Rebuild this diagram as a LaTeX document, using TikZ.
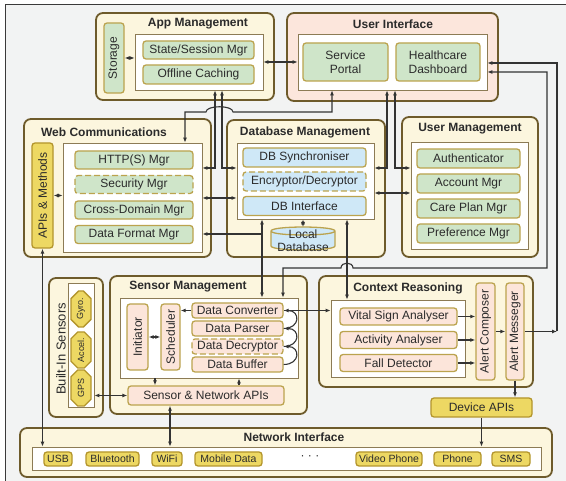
\documentclass[tikz,border=0pt]{standalone}
\usepackage{fontspec}
\setmainfont{Liberation Sans}
\usetikzlibrary{arrows.meta,calc,positioning,shapes.misc}
\definecolor{ArchBack}{HTML}{F2F3F3}
\definecolor{ArchFrame}{HTML}{3A3A3A}
\definecolor{ArchEdge}{HTML}{6E5B2B}
\definecolor{ArchCream}{HTML}{FCF6DE}
\definecolor{ArchRose}{HTML}{FCE6DC}
\definecolor{ArchPanel}{HTML}{8C7B55}
\definecolor{ArchGold}{HTML}{BBA34E}
\definecolor{ArchOchre}{HTML}{B3952C}
\definecolor{ArchGreen}{HTML}{CFE5C9}
\definecolor{ArchBlue}{HTML}{CFE8F7}
\definecolor{ArchPink}{HTML}{FCE5DA}
\definecolor{ArchYellow}{HTML}{EDD863}
\definecolor{ArchText}{HTML}{2B2B2B}
\definecolor{ArchLine}{HTML}{333333}
\tikzset{
  module/.style={draw=ArchEdge, fill=ArchCream, line width=1.8pt, rounded corners=7pt, inner sep=0pt},
  panel/.style={draw=ArchPanel, fill=white, line width=0.7pt, inner sep=0pt},
  itembox/.style={draw=ArchGold, line width=1.3pt, rounded corners=3pt, inner sep=0pt,
    text=ArchText, align=center, font=\fontsize{12}{13.5}\selectfont},
  greenitem/.style={itembox, fill=ArchGreen},
  blueitem/.style={itembox, fill=ArchBlue},
  pinkitem/.style={itembox, fill=ArchPink},
  yellowitem/.style={itembox, fill=ArchYellow, draw=ArchOchre},
  netitem/.style={yellowitem, font=\fontsize{10.5}{12}\selectfont, minimum height=14},
  sensoritem/.style={yellowitem, chamfered rectangle, chamfered rectangle xsep=6pt,
    rounded corners=0pt, rotate=90, minimum width=36, minimum height=20,
    font=\fontsize{9}{10}\selectfont},
  brokenedge/.style={dash pattern=on 6pt off 3pt},
  modtitle/.style={inner sep=0pt, text=ArchText, font=\bfseries\fontsize{12}{14}\selectfont},
  link/.style={draw=ArchLine, line width=1.1pt, ->},
  twolink/.style={link, <->}
}

\begin{document}
\begin{tikzpicture}[x=1pt,y=-1pt,>={Latex[length=5pt,width=4pt]}]

  \useasboundingbox (0,0) rectangle (566,481);
  \fill[ArchBack] (5,5) rectangle (566,481);
  \draw[ArchFrame,line width=1pt] (5,481) -- (5,5) -- (566,5);

  \node[module, minimum width=178, minimum height=87] (appmod) at (185,56.5) {};
  \node[module, fill=ArchRose, minimum width=211, minimum height=88] (uimod) at (392.5,57) {};
  \node[module, minimum width=187, minimum height=138] (webmod) at (117.5,188) {};
  \node[module, minimum width=158, minimum height=137] (dbmod) at (306,188.5) {};
  \node[module, minimum width=136, minimum height=140] (usermod) at (470,187) {};
  \node[module, minimum width=54, minimum height=139] (builtinmod) at (76,347.5) {};
  \node[module, minimum width=197, minimum height=138] (sensormod) at (208.5,345) {};
  \node[module, minimum width=214, minimum height=111] (contextmod) at (426,331.5) {};
  \node[module, minimum width=532, minimum height=49] (netmod) at (286,452.5) {};

  \node[panel, minimum width=128, minimum height=56] (appinner) at (199,62) {};
  \node[panel, minimum width=189, minimum height=56] (uiinner) at (392.5,62) {};
  \node[panel, minimum width=139, minimum height=109] (webinner) at (132.5,197.5) {};
  \node[panel, minimum width=137, minimum height=76] (dbinner) at (305.5,181) {};
  \node[panel, minimum width=117, minimum height=107] (userinner) at (469.5,195.5) {};
  \node[panel, minimum width=26, minimum height=124] (builtininner) at (81,345) {};
  \node[panel, minimum width=178, minimum height=80] (sensorinner) at (209,338) {};
  \node[panel, minimum width=134, minimum height=77] (contextinner) at (398,338.5) {};
  \node[panel, minimum width=509, minimum height=23] (netinner) at (286.5,458.5) {};

  \node[modtitle] (apptitle) at (198,24) {App Management};
  \node[modtitle] (uititle) at (393,24) {User Interface};
  \node[modtitle] (webtitle) at (104,132) {Web Communications};
  \node[modtitle] (dbtitle) at (305,132) {Database Management};
  \node[modtitle] (usertitle) at (470,129) {User Management};
  \node[modtitle] (sensortitle) at (188,287) {Sensor Management};
  \node[modtitle] (contexttitle) at (408,288) {Context Reasoning};
  \node[modtitle] (nettitle) at (294,437) {Network Interface};
  \node[inner sep=0pt, text=ArchText, rotate=90, font=\fontsize{13}{15}\selectfont]
    (builtintitle) at (61,349) {Built-In Sensors};

  \node[greenitem, rotate=90, minimum width=70, minimum height=20] (storage) at (114,58) {Storage};
  \node[greenitem, minimum width=111, minimum height=18] (state) at (198.5,50) {State/Session Mgr};
  \node[greenitem, minimum width=111, minimum height=19] (offline) at (198.5,74.5) {Offline Caching};

  \node[greenitem, minimum width=85, minimum height=38] (portal) at (345.5,62) {Service\\Portal};
  \node[greenitem, minimum width=84, minimum height=38] (dashboard) at (438,62) {Healthcare\\Dashboard};

  \node[yellowitem, rotate=90, minimum width=105, minimum height=21] (apis) at (42.5,195.5) {APIs \& Methods};
  \foreach \y/\name/\lab/\sty in {160/http/HTTP(S) Mgr/solid, 184.5/security/Security Mgr/brokenedge,
      210/crossdomain/Cross-Domain Mgr/solid, 234.5/dataformat/Data Format Mgr/solid}
    \node[greenitem, \sty, minimum width=118, minimum height=18] (\name) at (134,\y) {\lab};

  \foreach \y/\name/\lab/\sty in {157.5/dbsync/DB Synchroniser/solid,
      181.5/encryptor/{Encryptor/Decryptor}/brokenedge, 206/dbinterface/DB Interface/solid}
    \node[blueitem, \sty, minimum width=123, minimum height=19] (\name) at (304.5,\y) {\lab};

  \fill[ArchBlue] (271,231) -- (271,246) .. controls (271,251.3) and (335,251.3) .. (335,246)
    -- (335,231) .. controls (335,225.7) and (271,225.7) .. cycle;
  \draw[ArchGold,line width=1.3pt] (271,231) -- (271,246) .. controls (271,251.3) and (335,251.3) .. (335,246)
    -- (335,231) .. controls (335,225.7) and (271,225.7) .. cycle
    (271,231) .. controls (271,236.3) and (335,236.3) .. (335,231);
  \node[inner sep=0pt, align=center, text=ArchText, font=\fontsize{12}{13}\selectfont]
    (localdb) at (303,240.5) {Local\\Database};

  \foreach \y/\name/\lab in {158.5/auth/Authenticator, 183.5/account/Account Mgr,
      208.5/careplan/Care Plan Mgr, 233.5/preference/Preference Mgr}
    \node[greenitem, minimum width=103, minimum height=19] (\name) at (468.5,\y) {\lab};

  \foreach \y/\name/\lab in {309/gyro/Gyro., 350/accel/Accel., 388/gps/GPS}
    \node[sensoritem] (\name) at (81,\y) {\lab};

  \node[pinkitem, rotate=90, minimum width=66, minimum height=21] (initiator) at (137.5,337) {Initiator};
  \node[pinkitem, rotate=90, minimum width=66, minimum height=19] (scheduler) at (170.5,337) {Scheduler};
  \foreach \y/\name/\lab/\sty in {310.5/converter/Data Converter/solid, 328.5/parser/Data Parser/solid,
      346.5/decryptor/Data Decryptor/brokenedge, 364.5/buffer/Data Buffer/solid}
    \node[pinkitem, \sty, minimum width=91, minimum height=15] (\name) at (237.5,\y) {\lab};
  \node[pinkitem, minimum width=156, minimum height=19] (sensorapis) at (206,395.5) {Sensor \& Network APIs};

  \foreach \y/\name/\lab in {316.5/vital/Vital Sign Analyser, 340/activity/Activity Analyser, 363/fall/Fall Detector}
    \node[pinkitem, minimum width=117, minimum height=17] (\name) at (398.5,\y) {\lab};
  \node[pinkitem, rotate=90, minimum width=97, minimum height=19] (composer) at (485.5,331.5) {Alert Composer};
  \node[pinkitem, rotate=90, minimum width=97, minimum height=18] (messeger) at (515,331.5) {Alert Messeger};
  \node[yellowitem, minimum width=101, minimum height=19] (deviceapis) at (481.5,407.5) {Device APIs};

  \foreach \x/\w/\name/\lab in {58/28/usb/USB, 112.5/53/bluetooth/Bluetooth, 167/30/wifi/WiFi,
      228.5/67/mobile/Mobile Data, 389/66/video/Video Phone, 457.5/47/phone/Phone, 511/38/sms/SMS}
    \node[netitem, minimum width=\w] (\name) at (\x,459) {\lab};
  \node[inner sep=0pt, text=ArchText, font=\fontsize{12}{13}\selectfont] (dots) at (310,458) {· · ·};

  \coordinate (dbtap) at (262,234);
  \coordinate (alertbus) at (557,331.5);

  \draw[twolink] (storage.south) -- (storage.south -| appinner.west);
  \draw[twolink] (appinner.east) -- (uiinner.west);
  \draw[twolink] (185,0 |- webinner.north) -- (185,112) -- (206,112)
    .. controls (206,105) and (233,105) .. (233,112) -| (332,0 |- uiinner.south);
  \draw[twolink] (215,0 |- appinner.south) |- (webinner.east |- 0,168);
  \draw[twolink] (222,0 |- appinner.south) |- (dbinner.west |- 0,168);
  \draw[twolink] (387,0 |- uiinner.south) |- (dbinner.east |- 0,168);
  \draw[twolink] (395,0 |- uiinner.south) |- (userinner.west |- 0,168);
  \draw[twolink] (webinner.east |- 0,198) -- (dbinner.west |- 0,198);
  \draw[twolink] (dbinner.east |- 0,193) -- (userinner.west |- 0,193);
  \draw[twolink] (apis.south) -- (apis.south -| webinner.west);
  \draw[twolink] (dbinner.south -| localdb) -- (localdb |- 0,227);
  \draw[twolink] (262,0 |- dbinner.south) -- (262,0 |- sensorinner.north);
  \draw[link] (dbtap) -- (webinner.east |- dbtap);
  \draw[twolink] (347,0 |- dbinner.south) -- (347,0 |- contextinner.north);
  \draw[twolink] (283,0 |- sensorinner.north) -- (283,268) -- (341,268)
    .. controls (341,261.5) and (353,261.5) .. (353,268) -| (547,72) -- (uiinner.east |- 0,72);

  \draw[link] (converter.east) -- (converter.east -| contextinner.west);
  \draw[link] (converter.west) -- (converter.west -| scheduler.south);
  \draw[twolink] (initiator.south) -- (scheduler.north);
  \draw[link] (buffer.east) to[out=0,in=0,looseness=2.4] (decryptor.east);
  \draw[link] (decryptor.east) to[out=0,in=0,looseness=2.4] (parser.east);
  \draw[link] (parser.east) to[out=0,in=0,looseness=2.4] (converter.east);
  \draw[link] (155,0 |- sensorinner.south) -- (155,0 |- sensorapis.north);
  \draw[link] (239,0 |- sensorapis.north) -- (239,0 |- sensorinner.south);
  \draw[twolink] (builtininner.east |- sensorapis.west) -- (sensorapis.west);
  \draw[twolink] (170,0 |- sensorapis.south) -- (170,0 |- netinner.north);
  \draw[twolink] (apis.west) -- (apis.west |- netinner.north);

  \foreach \name in {vital, activity, fall}
    \draw[link] (\name.east) -- (\name.east -| composer.north);
  \draw[link] (composer.south) -- (messeger.north);
  \draw[link] (messeger.south) -- (alertbus);
  \draw[link] (alertbus) |- (uiinner.east |- 0,63);
  \draw[link] (messeger.west) -- (messeger.west |- deviceapis.north);
  \draw[link] (deviceapis.south) -- (deviceapis.south |- netinner.north);

\end{tikzpicture}
\end{document}
